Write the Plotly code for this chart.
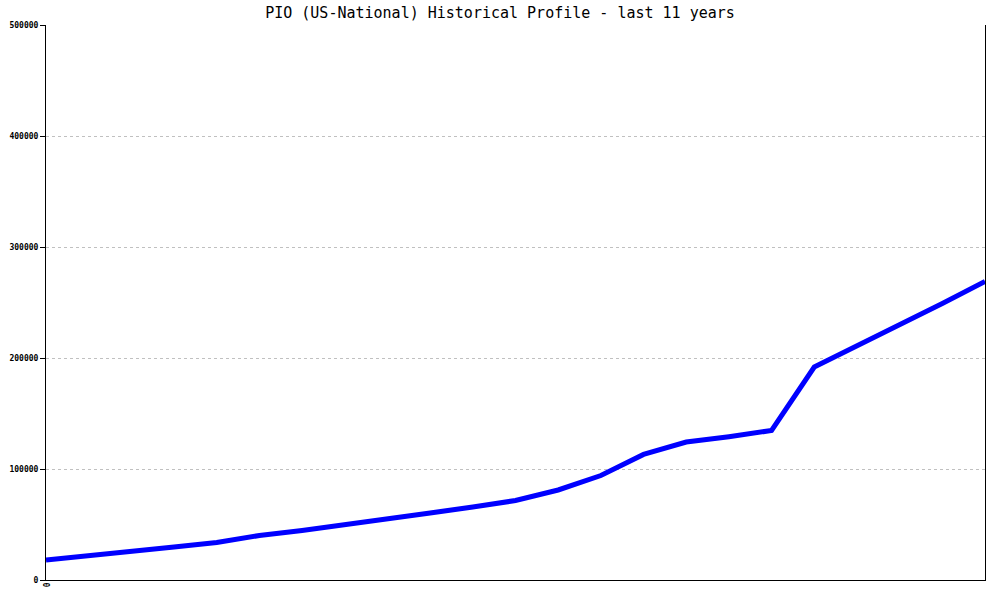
import plotly.graph_objects as go

periods = list(range(23))
values = [18000, 21600, 25700, 29700, 33800, 40100, 44600, 49500, 55000, 60400,
          65800, 71600, 81100, 94100, 113100, 124300, 129100, 134700, 191900,
          210800, 229700, 249100, 268900]
y_ticks = [0, 100000, 200000, 300000, 400000, 500000]
y_tick_labels = ["0", "100000", "200000", "300000", "400000", "500000"]
x_ticks = [0]
x_tick_labels = ["0"]
title = "PIO (US-National) Historical Profile - last 11 years"

fig = go.Figure()
fig.add_trace(go.Scatter(x=periods, y=values, mode="lines",
                         line=dict(color="#0000FF", width=5), hoverinfo="skip"))

tick_font = dict(family="DejaVu Sans Mono", size=8, color="black", weight="bold")

fig.update_layout(
    width=1000, height=600,
    margin=dict(l=46, r=15, t=25, b=20),
    paper_bgcolor="white", plot_bgcolor="white",
    showlegend=False,
    title=dict(text=title, x=0.5, xanchor="center", y=0.978, yanchor="middle",
               font=dict(family="DejaVu Sans Mono", size=15, color="black")),
    xaxis=dict(range=[0, 22], showgrid=False, zeroline=False, automargin=False,
               showline=True, linecolor="black", linewidth=1,
               tickvals=x_ticks, ticktext=x_tick_labels, tickangle=90,
               ticks="", tickfont=tick_font),
    yaxis=dict(range=[0, 500000], showgrid=True, gridcolor="#c0c0c0",
               griddash="dot", gridwidth=1, zeroline=False, automargin=False,
               showline=True, linecolor="black", linewidth=1, mirror=True,
               tickvals=y_ticks, ticktext=y_tick_labels,
               ticks="outside", ticklen=5, tickcolor="black",
               tickfont=tick_font),
)

fig.write_html("out.html", config={"displayModeBar": False},
               post_script="document.body.style.margin='0';")
